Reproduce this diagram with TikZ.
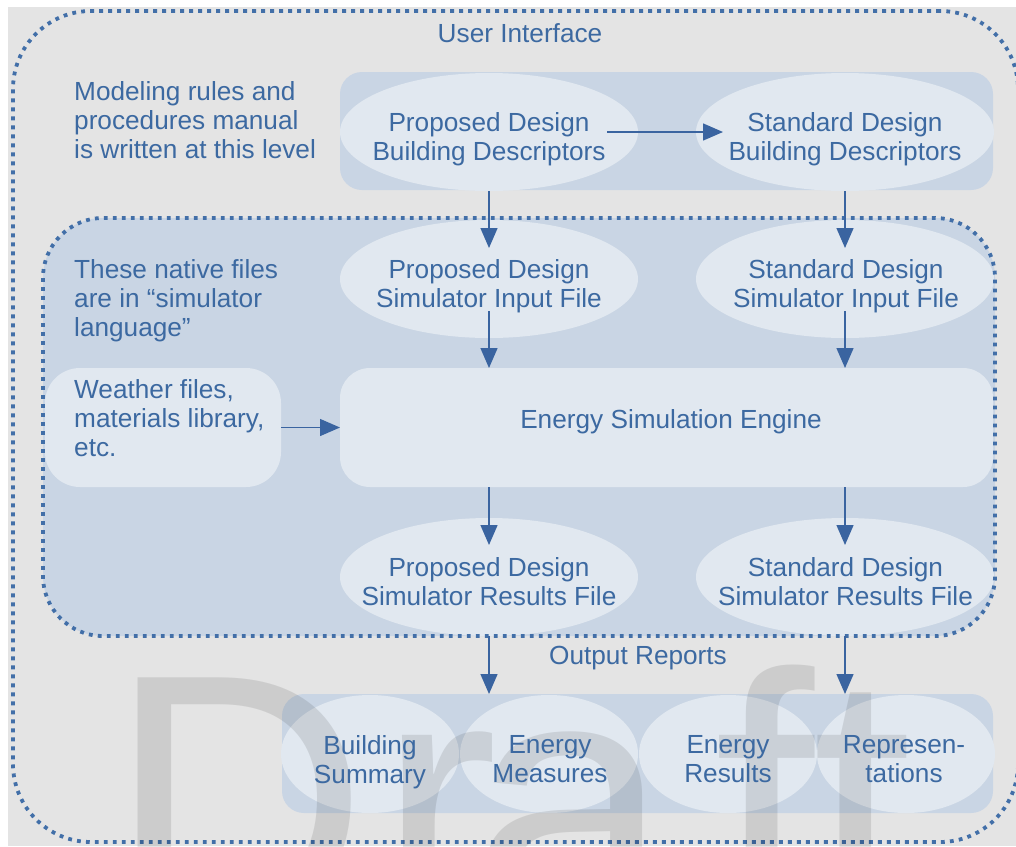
\documentclass[tikz,border=0pt]{standalone}
\usepackage{fontspec}
\setmainfont{Liberation Sans}
\usetikzlibrary{shapes.geometric,arrows.meta,calc}
\definecolor{bgc}{HTML}{E4E4E4}
\definecolor{bandc}{HTML}{C9D5E4}
\definecolor{lightc}{HTML}{E1E8F0}
\definecolor{txtc}{HTML}{3C69A1}
\definecolor{dotc}{HTML}{426FA8}
\definecolor{arrc}{HTML}{3A64A0}
\begin{document}
\begin{tikzpicture}[x=1pt,y=-1pt,
  box/.style={rectangle, inner sep=0pt, outer sep=0pt},
  dotline/.style={draw=dotc, line width=3.8pt, dash pattern=on 3.8pt off 5.2pt},
  oval/.style={ellipse, fill=lightc, inner sep=0pt, outer sep=0pt, minimum width=298pt, minimum height=118pt},
  smalloval/.style={ellipse, fill=lightc, inner sep=0pt, outer sep=0pt, minimum width=178pt, minimum height=118pt},
  lbl/.style={text=txtc, inner sep=0pt, font=\fontsize{26.2}{29.3}\selectfont},
  multi/.style={lbl, align=center, execute at begin node=\vphantom{Ad}, execute at end node=\vphantom{gp}},
  arr/.style={draw=arrc, line width=1.4pt, -{Triangle[length=20pt,width=17pt]}},
  wm/.style={text=black, text opacity=0.1, opacity=0.1, inner sep=0pt, anchor=base west, font=\fontsize{360}{360}\selectfont}
]
\useasboundingbox (0,0) rectangle (1016,846);
\fill[white] (0,0) rectangle (1016,846);
\fill[bgc] (8,7) rectangle (1016,846);

% outer user interface frame
\node[box, dotline, rounded corners=78pt, minimum width=1005pt, minimum height=831pt] (outer) at (515.5,426.5) {};
% simulator region
\node[box, fill=bandc, rounded corners=60pt, minimum width=952pt, minimum height=418pt] (simregion) at (519,427) {};
% bands
\node[box, fill=bandc, rounded corners=22pt, minimum width=653pt, minimum height=118pt] (uiband) at (666.5,131) {};
\node[box, fill=bandc, rounded corners=22pt, minimum width=711pt, minimum height=119pt] (outband) at (637.5,753.5) {};

% ellipses
\node[oval] (pdbd) at (489,132) {};
\node[oval] (sdbd) at (845,132) {};
\node[oval] (pdsif) at (489,279) {};
\node[oval] (sdsif) at (845,279) {};
\node[oval] (pdsrf) at (489,577) {};
\node[oval] (sdsrf) at (845,577) {};
\node[smalloval] (bs) at (370,754) {};
\node[smalloval] (em) at (549,754) {};
\node[smalloval] (er) at (728,754) {};
\node[smalloval] (rep) at (906,754) {};

% boxes
\node[box, fill=lightc, rounded corners=30pt, minimum width=653pt, minimum height=119pt] (engine) at (666.5,427.5) {};
\node[box, fill=lightc, rounded corners=35pt, minimum width=236pt, minimum height=119pt] (weather) at (163,427.5) {};

\draw[dotline, rounded corners=60pt] (simregion.north west) rectangle (simregion.south east);

% watermark
\begin{scope}
\clip (8,7) rectangle (1016,846);
\node[wm] (wmD) at (108,925) {D};
\node[wm] (wmr) at (378,925) {r};
\node[wm] (wma) at (470,925) {a};
\node[wm] (wmf) at (714,925) {f};
\node[wm] (wmt) at (812,925) {t};
\end{scope}

% texts
\node[lbl, anchor=base] (uit) at (520,42) {User Interface};
\node[lbl, anchor=north west, align=left] (modt) at (74,81) {Modeling rules and\\procedures manual\\is written at this level};
\node[lbl, anchor=north west, align=left] (natt) at (74,259) {These native files\\are in “simulator\\language”};
\node[lbl, anchor=north west, align=left] (weathert) at (74,379) {Weather files,\\materials library,\\etc.};
\node[multi] (pdbdt) at (489,139) {Proposed Design\\Building Descriptors};
\node[multi] (sdbdt) at (845,139) {Standard Design\\Building Descriptors};
\node[multi] (pdsift) at (489,286) {Proposed Design\\Simulator Input File};
\node[multi] (sdsift) at (846,286) {Standard Design\\Simulator Input File};
\node[multi] (pdsrft) at (489,584) {Proposed Design\\Simulator Results File};
\node[multi] (sdsrft) at (845.5,584) {Standard Design\\Simulator Results File};
\node[lbl, anchor=base] (enginet) at (671,428) {Energy Simulation Engine};
\node[lbl, anchor=base] (outt) at (638,664) {Output Reports};
\node[multi] (bst) at (370,762) {Building\\Summary};
\node[multi] (emt) at (550,762) {Energy\\Measures};
\node[multi] (ert) at (728,762) {Energy\\Results};
\node[multi] (rept) at (904,762) {Represen-\\tations};

% arrows
\draw[arr] ([xshift=-31pt]pdbd.east) -- ([xshift=27pt]sdbd.west);
\draw[arr] (pdbd.south) -- ([yshift=-28pt]pdsif.north);
\draw[arr] (sdbd.south) -- ([yshift=-28pt]sdsif.north);
\draw[arr] ([yshift=-32pt]pdsif.center) -- (pdsif.center |- engine.north);
\draw[arr] ([yshift=-32pt]sdsif.center) -- (sdsif.center |- engine.north);
\draw[arr] (weather.east) -- (engine.west);
\draw[arr] (pdsrf.center |- engine.south) -- ([yshift=-27pt]pdsrf.north);
\draw[arr] (sdsrf.center |- engine.south) -- ([yshift=-27pt]sdsrf.north);
\draw[arr] (pdsrf.center |- simregion.south) -- (pdsrf.center |- outband.north);
\draw[arr] (sdsrf.center |- simregion.south) -- (sdsrf.center |- outband.north);
\end{tikzpicture}
\end{document}
